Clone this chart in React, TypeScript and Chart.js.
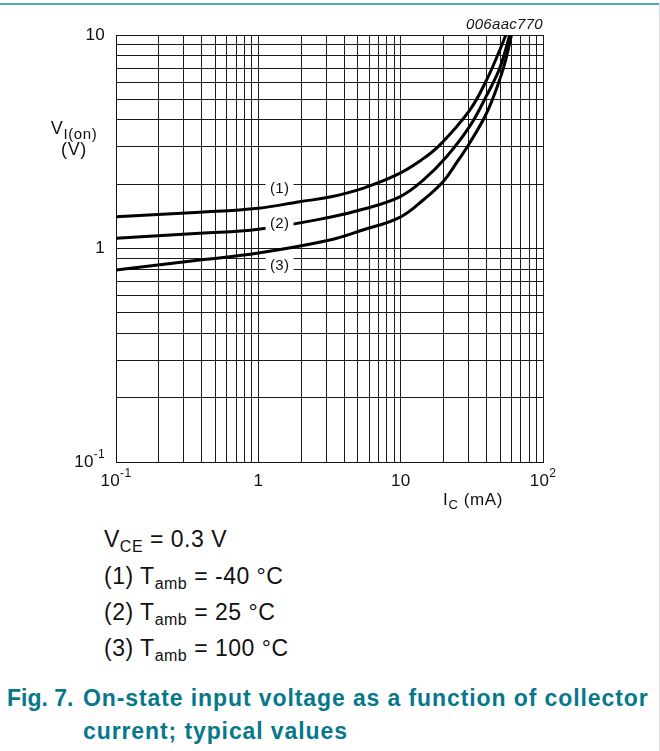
import React, { useEffect, useRef } from "react";
import { Chart, registerables } from "chart.js";

Chart.register(...registerables);

// ---- data (I_C in mA, V_I(on) in V) ----
const currentsT1 = [0.1, 0.387, 1, 1.95, 3.18, 5.42, 9.34, 14.0, 18.8, 30.6, 40.1, 49.7, 54.8];
const voltagesT1 = [1.41, 1.478, 1.543, 1.656, 1.742, 1.914, 2.21, 2.6, 3.05, 4.45, 6.15, 8.5, 10];

const currentsT2 = [0.1, 0.387, 1, 3.18, 5.42, 9.86, 14.4, 21, 30.6, 40.1, 49.7, 58.4];
const voltagesT2 = [1.116, 1.178, 1.23, 1.4, 1.526, 1.746, 2.09, 2.69, 3.74, 5.2, 7.0, 10];

const currentsT3 = [0.1, 0.387, 1, 3.18, 5.42, 9.86, 14.4, 19.9, 25, 30.6, 40.1, 49.7, 55.4, 60];
const voltagesT3 = [0.793, 0.883, 0.952, 1.096, 1.221, 1.4, 1.687, 2.06, 2.55, 3.13, 4.3, 6.2, 7.9, 10];

// curve labels
const curveLabels = ["(1)", "(2)", "(3)"];
const labelCurrents = [1.41, 1.41, 1.41];
const labelVoltages = [1.92, 1.316, 0.837];

// axes
const xMin = 0.1;
const xMax = 100;
const yMin = 0.1;
const yMax = 10;
const xTickValues = [0.1, 1, 10, 100];
const xTickBases = ["10", "1", "10", "10"];
const xTickExps = ["-1", "", "", "2"];
const yTickValues = [10, 1, 0.1];
const yTickBases = ["10", "1", "10"];
const yTickExps = ["", "", "-1"];
const decadeStarts = [0.1, 1, 10];
const mantissas = [1, 2, 3, 4, 5, 6, 7, 8, 9];

const FONT = '"Liberation Sans", Arial, Helvetica, sans-serif';

function gridValues(min: number, max: number) {
  const out: number[] = [];
  decadeStarts.forEach((d) => mantissas.forEach((m) => {
    const v = +(d * m).toPrecision(6);
    if (v >= min - 1e-9 && v <= max + 1e-9) out.push(v);
  }));
  if (!out.includes(max)) out.push(max);
  return out;
}

function toPoints(xs: number[], ys: number[]) {
  return xs.map((x, i) => ({ x, y: ys[i] }));
}

const textPlugin = {
  id: "textPlugin",
  afterDatasetsDraw(chart: any) {
    const ctx = chart.ctx as CanvasRenderingContext2D;
    const xs = chart.scales.x;
    const ys = chart.scales.y;
    ctx.save();
    (ctx as any).letterSpacing = "0.3px";
    ctx.font = `15px ${FONT}`;
    ctx.textBaseline = "middle";
    ctx.textAlign = "center";
    curveLabels.forEach((t, i) => {
      const px = xs.getPixelForValue(labelCurrents[i]);
      const py = ys.getPixelForValue(labelVoltages[i]);
      ctx.fillStyle = "#fff";
      ctx.fillRect(px - 14, py - 7.5, 28, 16);
      ctx.fillStyle = "#111";
      ctx.fillText(t, px, py + 1);
    });
    ctx.restore();
  },
  afterDraw(chart: any) {
    const ctx = chart.ctx as CanvasRenderingContext2D;
    const xs = chart.scales.x;
    const ys = chart.scales.y;
    const area = chart.chartArea;
    ctx.save();
    ctx.fillStyle = "#111";
    (ctx as any).letterSpacing = "0.3px";
    const baseFont = `17px ${FONT}`;
    const supFont = `12px ${FONT}`;
    // y tick labels
    ctx.textBaseline = "middle";
    yTickValues.forEach((v, i) => {
      const py = ys.getPixelForValue(v);
      ctx.font = supFont;
      const ew = yTickExps[i] ? ctx.measureText(yTickExps[i]).width : 0;
      ctx.font = baseFont;
      const bw = ctx.measureText(yTickBases[i]).width;
      const right = area.left - 11;
      ctx.textAlign = "left";
      ctx.fillText(yTickBases[i], right - ew - bw, py);
      if (yTickExps[i]) {
        ctx.font = supFont;
        ctx.fillText(yTickExps[i], right - ew, py - 7);
      }
    });
    // x tick labels
    xTickValues.forEach((v, i) => {
      const px = xs.getPixelForValue(v);
      ctx.font = supFont;
      const ew = xTickExps[i] ? ctx.measureText(xTickExps[i]).width : 0;
      ctx.font = baseFont;
      const bw = ctx.measureText(xTickBases[i]).width;
      const left = px - (bw + ew) / 2;
      const py = area.bottom + 19;
      ctx.textAlign = "left";
      ctx.fillText(xTickBases[i], left, py);
      if (xTickExps[i]) {
        ctx.font = supFont;
        ctx.fillText(xTickExps[i], left + bw, py - 7);
      }
    });
    // y axis title
    ctx.textBaseline = "alphabetic";
    ctx.textAlign = "left";
    (ctx as any).letterSpacing = "0.6px";
    const cx = 74;
    ctx.font = `18px ${FONT}`;
    const vW = ctx.measureText("V").width;
    ctx.font = `15px ${FONT}`;
    const sW = ctx.measureText("I(on)").width;
    let x0 = cx - (vW + sW) / 2;
    ctx.font = `18px ${FONT}`;
    ctx.fillText("V", x0, 134);
    ctx.font = `15px ${FONT}`;
    ctx.fillText("I(on)", x0 + vW, 139);
    ctx.font = `18px ${FONT}`;
    ctx.textAlign = "center";
    ctx.fillText("(V)", cx, 155);
    // x axis title
    ctx.textAlign = "left";
    ctx.font = `17px ${FONT}`;
    const iW = ctx.measureText("I").width;
    ctx.font = `13px ${FONT}`;
    const cW = ctx.measureText("C").width;
    ctx.font = `17px ${FONT}`;
    const mW = ctx.measureText(" (mA)").width;
    x0 = 473 - (iW + cW + mW) / 2;
    ctx.fillText("I", x0, 505);
    ctx.font = `13px ${FONT}`;
    ctx.fillText("C", x0 + iW, 509);
    ctx.font = `17px ${FONT}`;
    ctx.fillText(" (mA)", x0 + iW + cW, 505);
    // figure id
    ctx.font = `italic 15px ${FONT}`;
    ctx.textAlign = "right";
    (ctx as any).letterSpacing = "0.3px";
    ctx.fillText("006aac770", area.right, 29);
    ctx.restore();
  },
};

function ChartCanvas() {
  const ref = useRef<HTMLCanvasElement | null>(null);
  useEffect(() => {
    if (!ref.current) return;
    const lineStyle = {
      borderColor: "#000",
      borderWidth: 3,
      pointRadius: 0,
      fill: false,
      tension: 0.4,
    };
    const chart = new Chart(ref.current, {
      type: "line",
      data: {
        datasets: [
          { label: "Tamb = -40 °C", data: toPoints(currentsT1, voltagesT1), ...lineStyle },
          { label: "Tamb = 25 °C", data: toPoints(currentsT2, voltagesT2), ...lineStyle },
          { label: "Tamb = 100 °C", data: toPoints(currentsT3, voltagesT3), ...lineStyle },
        ],
      },
      options: {
        animation: false,
        responsive: false,
        devicePixelRatio: 1,
        parsing: false as any,
        layout: { padding: { left: 116, top: 35, right: 117, bottom: 58 } },
        plugins: { legend: { display: false }, tooltip: { enabled: false } },
        scales: {
          x: {
            type: "logarithmic",
            min: xMin,
            max: xMax,
            afterBuildTicks: (s: any) => {
              s.ticks = gridValues(xMin, xMax).map((v) => ({ value: v }));
            },
            ticks: { display: false },
            grid: { color: "#1a1a1a", lineWidth: 1, drawTicks: false },
            border: { display: true, color: "#111", width: 1 },
          },
          y: {
            type: "logarithmic",
            min: yMin,
            max: yMax,
            afterBuildTicks: (s: any) => {
              s.ticks = gridValues(yMin, yMax).map((v) => ({ value: v }));
            },
            ticks: { display: false },
            grid: { color: "#1a1a1a", lineWidth: 1, drawTicks: false },
            border: { display: true, color: "#111", width: 1 },
          },
        },
      },
      plugins: [textPlugin],
    });
    return () => chart.destroy();
  }, []);
  return <canvas ref={ref} width={660} height={520} style={{ position: "absolute", left: 0, top: 0, width: 660, height: 520 }} />;
}

const legendStyle: React.CSSProperties = {
  position: "absolute",
  left: 104,
  fontSize: 23,
  lineHeight: "23px",
  letterSpacing: "0.5px",
  color: "#111",
  whiteSpace: "nowrap",
};
const subStyle: React.CSSProperties = { fontSize: 16, position: "relative", top: 5 };
const captionStyle: React.CSSProperties = {
  position: "absolute",
  fontSize: 23,
  lineHeight: "23px",
  letterSpacing: "0.9px",
  fontWeight: "bold",
  color: "#07788b",
  whiteSpace: "nowrap",
};

export default function App() {
  return (
    <div style={{ position: "absolute", left: 0, top: 0, width: 660, height: 751, background: "#fff", fontFamily: FONT, overflow: "hidden" }}>
      <div style={{ position: "absolute", left: 0, top: 3, width: 660, height: 1.5, background: "#5aa8b3" }} />
      <div style={{ position: "absolute", left: 659, top: 3, width: 1, height: 748, background: "#cfdde3" }} />
      <ChartCanvas />
      <div style={{ ...legendStyle, top: 547 - 19.5 }}>V<span style={subStyle}>CE</span> = 0.3 V</div>
      <div style={{ ...legendStyle, top: 584.3 - 19.5 }}>(1) T<span style={subStyle}>amb</span> = -40 °C</div>
      <div style={{ ...legendStyle, top: 620 - 19.5 }}>(2) T<span style={subStyle}>amb</span> = 25 °C</div>
      <div style={{ ...legendStyle, top: 656.7 - 19.5 }}>(3) T<span style={subStyle}>amb</span> = 100 °C</div>
      <div style={{ ...captionStyle, left: 7, letterSpacing: "0px", top: 706.7 - 19.5 }}>Fig. 7.</div>
      <div style={{ ...captionStyle, left: 83, top: 706.7 - 19.5 }}>On-state input voltage as a function of collector</div>
      <div style={{ ...captionStyle, left: 83, top: 739.3 - 19.5 }}>current; typical values</div>
    </div>
  );
}
